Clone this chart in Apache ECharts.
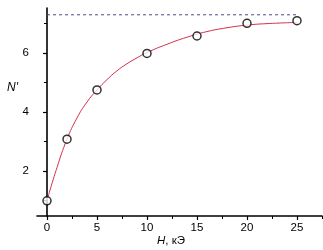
<!DOCTYPE html>
<html><head><meta charset="utf-8">
<script src="https://cdn.jsdelivr.net/npm/echarts@6/dist/echarts.min.js"></script>
<style>html,body{margin:0;padding:0;background:#fff}#c{width:323px;height:250px}</style>
</head><body><div id="c"></div>
<script>
// measured points
var pointH = [0, 2, 5, 10, 15, 20, 25];
var pointN = [0.99, 3.08, 4.75, 5.99, 6.58, 7.01, 7.1];
// fitted curve
var curveH = [0, 1, 2, 3, 4, 5, 6, 7, 8, 9, 10, 12, 14, 16, 18, 20, 22, 25];
var curveN = [1.0, 2.12, 3.08, 3.8, 4.34, 4.75, 5.1, 5.4, 5.64, 5.84, 6.02, 6.3, 6.54, 6.73, 6.86, 6.95, 7.0, 7.04];
// saturation level (dashed)
var satH = [0, 25];
var satN = [7.3, 7.3];
// ticks
var xMajor = [0, 5, 10, 15, 20, 25];
var xMinor = [2.5, 7.5, 12.5, 17.5, 22.5, 27.5];
var yMajor = [2, 4, 6];
var yMinor = [1, 3, 5, 7];

function pairs(a, b) { return a.map(function (v, i) { return [v, b[i]]; }); }

var font = 'Liberation Sans, Arial, sans-serif';
var chart = echarts.init(document.getElementById('c'), null, {renderer: 'canvas'});
var xBase = {type: 'value', min: -1, max: 27.5, splitLine: {show: false}};
var yBase = {type: 'value', min: 0.475, max: 7.53, splitLine: {show: false}};
chart.setOption({
  animation: false,
  grid: {left: 37, right: 1, top: 8, bottom: 34, containLabel: false},
  xAxis: [
    Object.assign({}, xBase, {
      axisLine: {show: true, lineStyle: {color: '#000', width: 1.6}},
      axisTick: {show: true, inside: false, length: 4, lineStyle: {color: '#000', width: 1.2}, customValues: xMajor},
      axisLabel: {show: true, margin: 6, color: '#000', fontSize: 11.5, fontFamily: font, customValues: xMajor}
    }),
    Object.assign({}, xBase, {
      position: 'bottom',
      axisLine: {show: false},
      axisTick: {show: true, length: 3, lineStyle: {color: '#000', width: 1}, customValues: xMinor},
      axisLabel: {show: false}
    })
  ],
  yAxis: [
    Object.assign({}, yBase, {
      axisLine: {show: true, lineStyle: {color: '#000', width: 1.6}},
      axisTick: {show: true, length: 4, lineStyle: {color: '#000', width: 1.2}, customValues: yMajor},
      axisLabel: {show: true, margin: 8, color: '#000', fontSize: 11.5, fontFamily: font, customValues: yMajor}
    }),
    Object.assign({}, yBase, {
      position: 'left',
      axisLine: {show: false},
      axisTick: {show: true, length: 3, lineStyle: {color: '#000', width: 1}, customValues: yMinor},
      axisLabel: {show: false}
    })
  ],
  series: [
    {type: 'line', data: pairs(satH, satN), symbol: 'none',
     lineStyle: {color: '#4a4a8c', width: 1, type: [3, 3]}},
    {type: 'line', data: pairs(curveH, curveN), symbol: 'none', smooth: 0.5,
     lineStyle: {color: '#d2304c', width: 1}},
    {type: 'scatter', data: pairs(pointH, pointN), symbol: 'circle', symbolSize: 8,
     itemStyle: {color: '#fff', borderColor: '#000', borderWidth: 1.5}, z: 5}
  ],
  graphic: [
    {type: 'text', left: 7, top: 82, style: {text: "N'", font: 'italic 12px ' + font, fill: '#000'}},
    {type: 'text', left: 157, top: 235, style: {text: '{i|H}, кЭ', font: '11.5px ' + font, fill: '#000',
      rich: {i: {fontStyle: 'italic', fontSize: 11.5, fontFamily: font}}}}
  ]
});
</script></body></html>
